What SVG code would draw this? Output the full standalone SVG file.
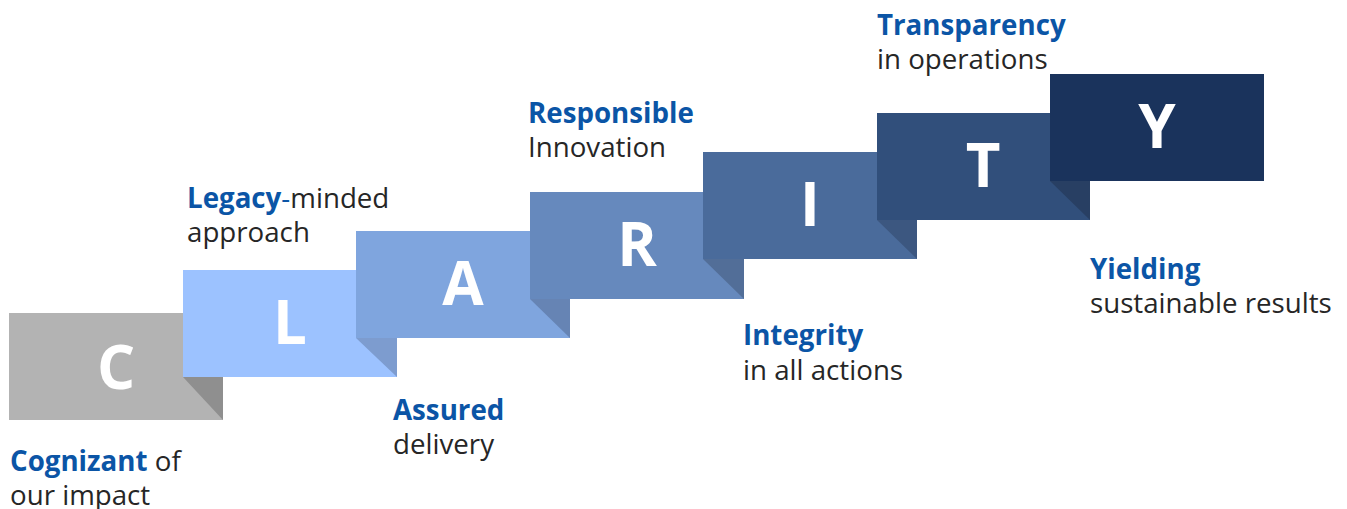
<svg xmlns="http://www.w3.org/2000/svg" width="1347" height="509" viewBox="0 0 1347 509">
<style>
.blk{stroke:none}
.ltr{font-family:"Open Sans","Noto Sans","Liberation Sans",sans-serif;font-weight:700;font-size:60px;fill:#ffffff;text-anchor:middle}
.lbl{font-family:"Open Sans","Noto Sans","Liberation Sans",sans-serif;font-size:27.7px;fill:#262626}
.key{font-weight:700;fill:#0b55a6}
</style>
<rect width="1347" height="509" fill="#ffffff"/>
<g id="connectors"></g>
<g id="node-C">
<rect class="blk" x="9" y="313" width="214" height="107" fill="#b3b3b3"/>
<polygon points="183,377 223,377 223,420" fill="#8f8f8f"/>
<text class="ltr" x="116" y="389">C</text>
<text class="lbl" x="10" y="471"><tspan class="key">Cognizant</tspan> of</text>
<text class="lbl" x="10" y="505">our impact</text>
</g>
<g id="node-L">
<rect class="blk" x="183" y="270" width="214" height="107" fill="#9cc2ff"/>
<polygon points="356,338 397,338 397,377" fill="#7d9ccf"/>
<text class="ltr" x="290" y="344">L</text>
<text class="lbl" x="187" y="208"><tspan class="key">Legacy</tspan><tspan fill="#0b55a6">-</tspan>minded</text>
<text class="lbl" x="187" y="242">approach</text>
</g>
<g id="node-A">
<rect class="blk" x="356" y="231" width="214" height="107" fill="#7fa5de"/>
<polygon points="530,299 570,299 570,338" fill="#6684b4"/>
<text class="ltr" x="463" y="305">A</text>
<text class="lbl" x="393" y="420"><tspan class="key">Assured</tspan></text>
<text class="lbl" x="393" y="454">delivery</text>
</g>
<g id="node-R">
<rect class="blk" x="530" y="192" width="214" height="107" fill="#6689bd"/>
<polygon points="703,259 744,259 744,299" fill="#526e98"/>
<text class="ltr" x="637" y="266">R</text>
<text class="lbl" x="528" y="123"><tspan class="key">Responsible</tspan></text>
<text class="lbl" x="528" y="157">Innovation</text>
</g>
<g id="node-I">
<rect class="blk" x="703" y="152" width="214" height="107" fill="#4a6b9b"/>
<polygon points="877,220 917,220 917,259" fill="#3c5780"/>
<text class="ltr" x="810" y="226">I</text>
<text class="lbl" x="743" y="345"><tspan class="key">Integrity</tspan></text>
<text class="lbl" x="743" y="380">in all actions</text>
</g>
<g id="node-T">
<rect class="blk" x="877" y="113" width="213" height="107" fill="#314f7b"/>
<polygon points="1050,181 1090,181 1090,220" fill="#283f63"/>
<text class="ltr" x="983" y="187">T</text>
<text class="lbl" x="877" y="35"><tspan class="key">Transparency</tspan></text>
<text class="lbl" x="877" y="69">in operations</text>
</g>
<g id="node-Y">
<rect class="blk" x="1050" y="74" width="214" height="107" fill="#1a335c"/>
<text class="ltr" x="1157" y="148">Y</text>
<text class="lbl" x="1090" y="279"><tspan class="key">Yielding</tspan></text>
<text class="lbl" x="1090" y="313">sustainable results</text>
</g>
</svg>
